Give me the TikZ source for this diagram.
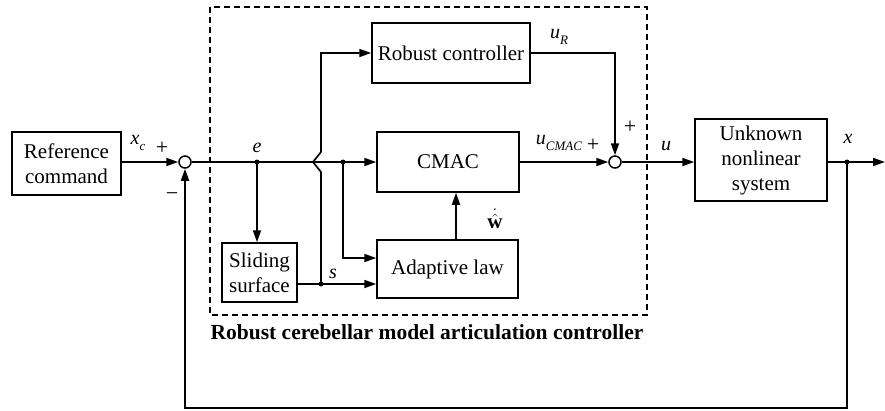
\documentclass[tikz,border=0pt]{standalone}
\usepackage{fontspec}
\setmainfont{Liberation Serif}
\usetikzlibrary{arrows.meta}
\begin{document}
\begin{tikzpicture}[x=1pt,y=-1pt,
  font=\fontsize{21}{25}\selectfont,
  blk/.style={draw,line width=1.5pt,inner sep=0pt,align=center},
  sig/.style={line width=1.7pt},
  arr/.style={sig,-{Triangle[length=12pt,width=8pt]}},
  sumc/.style={draw,circle,line width=1.5pt,minimum size=12pt,inner sep=0pt},
  dot/.style={circle,fill,inner sep=0pt,minimum size=5pt},
  lbl/.style={inner sep=0pt,font=\fontsize{20}{22}\selectfont\itshape},
  sgn/.style={inner sep=0pt,font=\fontsize{22}{22}\selectfont}]
\newcommand{\subtxt}[1]{\raisebox{-0.3em}{\fontsize{13}{13}\selectfont\itshape #1}}
\useasboundingbox (0,0) rectangle (885,410);
% dashed frame
\draw[line width=1.5pt,dash pattern=on 6pt off 4pt] (210,7) rectangle (647,315);
% blocks
\node[blk,minimum width=109pt,minimum height=63pt] (ref) at (66.5,163.5) {Reference\\command};
\node[sumc] (s1) at (185,162) {};
\node[blk,minimum width=158pt,minimum height=60pt] (rob) at (451,53) {Robust controller};
\node[blk,minimum width=142pt,minimum height=60pt] (cmac) at (448,162) {CMAC};
\node[blk,minimum width=141pt,minimum height=58pt] (ada) at (447.5,269) {Adaptive law};
\node[blk,minimum width=75pt,minimum height=59pt] (sld) at (259.5,272.5) {Sliding\\surface};
\node[sumc] (s2) at (615,162) {};
\node[blk,minimum width=132pt,minimum height=82pt] (plt) at (761,160) {Unknown\\nonlinear\\system};
% junctions
\node[dot] (je) at (257,162) {};
\node[dot] (j2) at (343,162) {};
\node[dot] (js) at (321,284) {};
\node[dot] (jx) at (847,162) {};
\coordinate (jogb) at (321,172);
\coordinate (jogm) at (313,162);
\coordinate (jogt) at (321,152);
\coordinate (outr) at (885,162);
\coordinate (fb) at (847,408);
\coordinate (fbl) at (185,408);
% connectors
\draw[arr] (ref.east |- s1) -- (s1.west);
\draw[arr] (s1.east) -- (cmac.west);
\draw[arr] (je.center) -- (je.center |- sld.north);
\draw[arr] (j2.center) |- (ada.west |- 0,258);
\draw[arr] (sld.east |- 0,284) -- (ada.west |- 0,284);
\draw[arr] (js.center) -- (jogb) -- (jogm) -- (jogt) |- (rob.west);
\draw[arr] (ada.north -| 456,0) -- (cmac.south -| 456,0);
\draw[arr] (rob.east) -| (s2.north);
\draw[arr] (cmac.east) -- (s2.west);
\draw[arr] (s2.east) -- (plt.west |- s2);
\draw[arr] (plt.east |- jx) -- (outr);
\draw[arr] (jx.center) -- (fb) -- (fbl) -- (s1.south);
% labels
\node[lbl] (lxc) at (138,143) {x\subtxt{c}};
\node[sgn] (p1) at (162,148) {+};
\node[sgn] (m1) at (172,197) {−};
\node[lbl] (le) at (257,148) {e};
\node[lbl] (ls) at (333,274) {s};
\node[inner sep=0pt] (lw) at (495,219) {$\dot{\hat{\textbf{w}}}$};
\node[lbl] (lur) at (559,37) {u\subtxt{R}};
\node[lbl] (luc) at (559,143) {u\subtxt{CMAC}};
\node[sgn] (p2) at (593,145) {+};
\node[sgn] (p3) at (630,127) {+};
\node[lbl] (lu) at (666,146) {u};
\node[lbl] (lx) at (848,139) {x};
\node[inner sep=0pt,font=\fontsize{21.5}{23}\selectfont\bfseries] (title) at (427,332) {Robust cerebellar model articulation controller};
\end{tikzpicture}
\end{document}
